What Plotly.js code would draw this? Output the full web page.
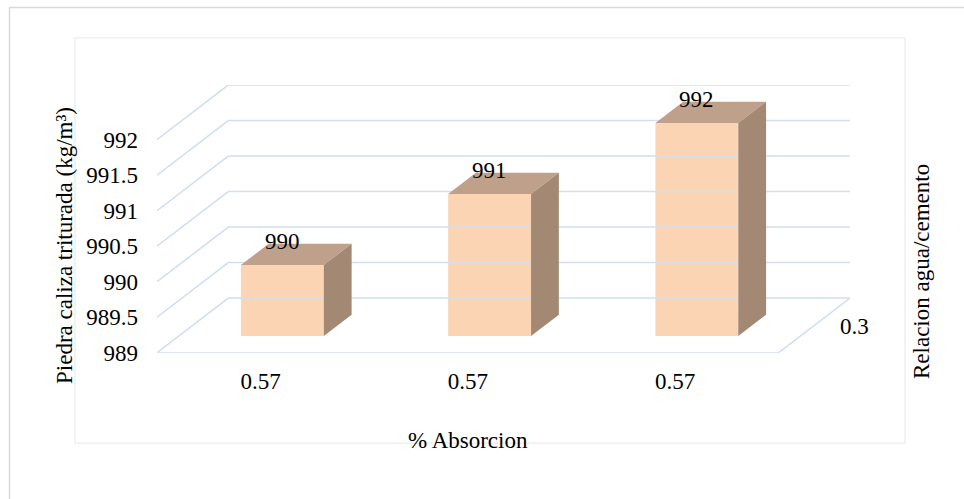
<!DOCTYPE html>
<html>
<head>
<meta charset="utf-8">
<script src="https://cdn.plot.ly/plotly-3.0.1.min.js"></script>
<style>
  html, body { margin: 0; padding: 0; background: #ffffff; }
  #chart { width: 964px; height: 499px; }
</style>
</head>
<body>
<div id="chart"></div>
<script>
// Chart data
const absorcion = ['0.57', '0.57', '0.57'];          // % Absorcion (category labels)
const piedra = [990, 991, 992];                       // Piedra caliza triturada (kg/m³)
const relacion = ['0.3'];                             // Relacion agua/cemento (depth label)
const yTicks = [989, 989.5, 990, 990.5, 991, 991.5, 992];

// Oblique 3D projection settings (axis units)
const DX = 0.344;        // horizontal shift of the back wall, in category units
const DY = 0.77;         // vertical shift of the back wall, in value units
const BAR_FRONT = 0.305; // depth of the bar front faces (fraction of floor depth)
const BAR_DEPTH = 0.39;  // bar depth (fraction of floor depth)
const BAR_W = 0.4;       // bar width in category units
const Y0 = yTicks[0];
const N = absorcion.length;
const xMin = -0.5, xMax = N - 0.5;

const W = 964, H = 499;
const px = v => v / W;
const py = v => 1 - v / H;

const FONT = 'Liberation Serif';
const FS = 23;
const GRID = '#D2DEF2';

const traces = [];

// back wall gridlines and left wall diagonals
yTicks.forEach(v => {
  traces.push({
    type: 'scatter', mode: 'lines', cliponaxis: false, hoverinfo: 'skip', showlegend: false,
    x: [xMin, xMin + DX, xMax + DX],
    y: [v, v + DY, v + DY],
    line: { color: GRID, width: 1.6 }
  });
});
// floor front edge and right edge
traces.push({
  type: 'scatter', mode: 'lines', cliponaxis: false, hoverinfo: 'skip', showlegend: false,
  x: [xMin, xMax, xMax + DX],
  y: [Y0, Y0, Y0 + DY],
  line: { color: GRID, width: 1.6 }
});

// bar geometry
const fx = BAR_FRONT * DX, fy = BAR_FRONT * DY;
const bx = BAR_DEPTH * DX, by = BAR_DEPTH * DY;
const centers = absorcion.map((_, i) => i + fx);
const base = Y0 + fy;

// front faces
traces.push({
  type: 'bar', hoverinfo: 'skip', showlegend: false,
  x: centers,
  y: piedra.map(v => v - Y0),
  base: base,
  width: BAR_W,
  marker: { color: '#FBD4B4', line: { width: 0 } }
});

// top and side faces
piedra.forEach((v, i) => {
  const xl = centers[i] - BAR_W / 2, xr = centers[i] + BAR_W / 2;
  const yt = v + fy;
  traces.push({
    type: 'scatter', mode: 'lines', fill: 'toself', hoverinfo: 'skip', showlegend: false,
    cliponaxis: false,
    x: [xl, xr, xr + bx, xl + bx, xl],
    y: [yt, yt, yt + by, yt + by, yt],
    fillcolor: '#BFA08A', line: { width: 0, color: '#BFA08A' }
  });
  traces.push({
    type: 'scatter', mode: 'lines', fill: 'toself', hoverinfo: 'skip', showlegend: false,
    cliponaxis: false,
    x: [xr, xr, xr + bx, xr + bx, xr],
    y: [base, yt, yt + by, base + by, base],
    fillcolor: '#A38974', line: { width: 0, color: '#A38974' }
  });
});

const annotations = [];
// value labels above each bar
piedra.forEach((v, i) => {
  annotations.push({
    x: centers[i], y: v + fy + by, xref: 'x', yref: 'y',
    text: String(v), showarrow: false, yanchor: 'middle', xanchor: 'center', yshift: 2,
    font: { family: FONT, size: FS, color: '#000000' }
  });
});
// depth axis label
annotations.push({
  x: xMax + DX / 2, y: Y0 + DY / 2, xref: 'x', yref: 'y',
  text: relacion[0], showarrow: false, xanchor: 'center', yanchor: 'middle', xshift: 40, yshift: -1,
  font: { family: FONT, size: FS, color: '#000000' }
});
// axis titles
annotations.push({
  x: px(468), y: py(440), xref: 'paper', yref: 'paper',
  text: '% Absorcion', showarrow: false, xanchor: 'center', yanchor: 'middle',
  font: { family: FONT, size: FS, color: '#000000' }
});
annotations.push({
  x: px(64), y: py(246), xref: 'paper', yref: 'paper',
  text: 'Piedra caliza triturada (kg/m³)', showarrow: false, textangle: -90,
  xanchor: 'center', yanchor: 'middle',
  font: { family: FONT, size: FS, color: '#000000' }
});
annotations.push({
  x: px(921), y: py(272), xref: 'paper', yref: 'paper',
  text: 'Relacion agua/cemento', showarrow: false, textangle: -90,
  xanchor: 'center', yanchor: 'middle',
  font: { family: FONT, size: FS, color: '#000000' }
});

const layout = {
  width: W, height: H,
  margin: { l: 0, r: 0, t: 0, b: 0 },
  paper_bgcolor: '#ffffff', plot_bgcolor: 'rgba(0,0,0,0)',
  showlegend: false,
  font: { family: FONT, size: FS, color: '#000000' },
  xaxis: {
    domain: [px(157), px(850)],
    range: [xMin, xMax + DX],
    tickvals: absorcion.map((_, i) => i),
    ticktext: absorcion,
    showgrid: false, zeroline: false, showline: false, ticks: '',
    ticklabelstandoff: 12,
    tickfont: { family: FONT, size: FS, color: '#000000' },
    fixedrange: true
  },
  yaxis: {
    domain: [py(352.7), py(85)],
    range: [Y0, yTicks[yTicks.length - 1] + DY],
    tickvals: yTicks,
    ticktext: yTicks.map(String),
    showgrid: false, zeroline: false, showline: false, ticks: '',
    ticklabelstandoff: 18,
    tickfont: { family: FONT, size: FS, color: '#000000' },
    fixedrange: true
  },
  annotations: annotations,
  shapes: [
    { type: 'rect', xref: 'paper', yref: 'paper', x0: px(9.5), x1: 1.05, y0: -0.05, y1: py(7.5),
      line: { color: '#D9D9D9', width: 1.5 }, fillcolor: 'rgba(0,0,0,0)', layer: 'below' },
    { type: 'rect', xref: 'paper', yref: 'paper', x0: px(75), x1: px(905), y0: py(443.3), y1: py(37.7),
      line: { color: '#F0F0F0', width: 1.5 }, fillcolor: 'rgba(0,0,0,0)', layer: 'below' }
  ]
};

Plotly.newPlot('chart', traces, layout, { displayModeBar: false, staticPlot: true });
</script>
</body>
</html>
